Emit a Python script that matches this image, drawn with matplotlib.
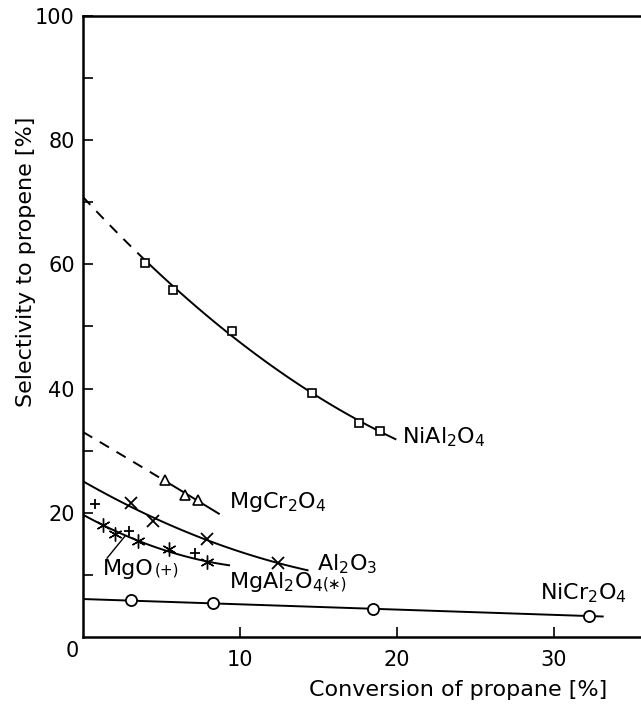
import numpy as np
import matplotlib.pyplot as plt

plt.rcParams['font.family'] = ['DejaVu Sans']
plt.rcParams['mathtext.default'] = 'regular'

# values (conversion %, selectivity %)
nial_x = [3.95, 5.75, 9.5, 14.6, 17.6, 18.9]
nial_y = [60.3, 55.8, 49.3, 39.3, 34.5, 33.2]
nial_y0, nial_xend = 71.2, 19.9

mgcr_x = [5.2, 6.5, 7.3]
mgcr_y = [25.3, 22.9, 22.1]
mgcr_y0, mgcr_xend = 33.0, 8.65

al_x = [3.08, 4.46, 7.9, 12.4]
al_y = [21.5, 18.6, 15.8, 11.9]
al_y0, al_xend = 25.0, 14.3

mgo_x = [0.78, 2.9, 7.15]
mgo_y = [21.4, 17.1, 13.6]

mgal_x = [1.3, 2.06, 3.5, 5.45, 7.9]
mgal_y = [18.0, 16.6, 15.5, 14.2, 12.0]
mgal_y0, mgal_xend = 19.9, 9.3

nicr_x = [3.06, 8.3, 18.5, 32.2]
nicr_y = [5.9, 5.4, 4.5, 3.4]
nicr_y0, nicr_xend = 6.1, 33.1

LW = 1.4
DASH = (0, (5.5, 4.5))


def trend(ax, xs, ys, y0, xend, xsolid=0.0, deg=2):
    # smooth curve through the points, dashed part from x=0 up to xsolid
    c = np.polyfit([0.0] + list(xs), [y0] + list(ys), deg)
    if xsolid > 0:
        xd = np.linspace(0, xsolid, 40)
        ax.plot(xd, np.polyval(c, xd), color='black', lw=LW, ls=DASH, zorder=2)
    xx = np.linspace(xsolid, xend, 120)
    ax.plot(xx, np.polyval(c, xx), color='black', lw=LW, zorder=2)


fig = plt.figure(figsize=(6.41, 7.07), dpi=100)
ax = fig.add_axes([0.1295, 0.099, 0.8705, 0.8784])

trend(ax, nial_x, nial_y, nial_y0, nial_xend, xsolid=nial_x[0])
trend(ax, mgcr_x, mgcr_y, mgcr_y0, mgcr_xend, xsolid=mgcr_x[0])
trend(ax, al_x, al_y, al_y0, al_xend)
trend(ax, mgal_x, mgal_y, mgal_y0, mgal_xend)
trend(ax, nicr_x, nicr_y, nicr_y0, nicr_xend, deg=1)

ax.plot(nial_x, nial_y, 's', ms=6, mfc='white', mec='black', mew=1.2, zorder=3)
ax.plot(mgcr_x, mgcr_y, '^', ms=7, mfc='white', mec='black', mew=1.2, zorder=3)
ax.plot(al_x, al_y, 'x', ms=8, mec='black', mew=1.3, zorder=3)
ax.plot(mgo_x, mgo_y, '+', ms=7, mec='black', mew=1.3, zorder=3)
ax.plot(mgal_x, mgal_y, marker=(6, 2, 0), ls='none', ms=10, mec='black', mew=1.0, zorder=3)
ax.plot(nicr_x, nicr_y, 'o', ms=8, mfc='white', mec='black', mew=1.3, zorder=3)

fs = 16
ax.text(20.3, 32.2, 'NiAl$_2$O$_4$', fontsize=fs, va='center')
ax.text(9.3, 21.8, 'MgCr$_2$O$_4$', fontsize=fs, va='center')
ax.text(14.9, 11.8, 'Al$_2$O$_3$', fontsize=fs, va='center')
ax.text(29.1, 7.1, 'NiCr$_2$O$_4$', fontsize=fs, va='center')
t1 = ax.text(1.25, 10.9, 'MgO', fontsize=fs, va='center')
ax.annotate('(+)', xy=(1.02, 0.45), xycoords=t1, fontsize=11, va='center')
t2 = ax.text(9.3, 8.9, 'MgAl$_2$O$_4$', fontsize=fs, va='center')
ax.annotate('(\u2217)', xy=(1.0, 0.42), xycoords=t2, fontsize=11, va='center')
ax.plot([1.53, 2.66], [12.7, 16.2], color='black', lw=1.0)

ax.set_xlim(0, 35.54)
ax.set_ylim(0, 100)
ax.set_xticks([10, 20, 30])
ax.set_yticks([20, 40, 60, 80, 100])
ax.set_yticks([10, 30, 50, 70, 90], minor=True)
ax.tick_params(axis='both', which='both', direction='in', length=7, width=1.2,
               labelsize=15)
ax.tick_params(axis='x', pad=9)
ax.tick_params(axis='y', pad=6)
ax.text(-0.7, -2.3, '0', fontsize=15, ha='center', va='center', clip_on=False)

for s in ['left', 'bottom', 'top']:
    ax.spines[s].set_linewidth(1.8)
ax.spines['right'].set_visible(False)

fig.text(458 / 641, 1 - 690 / 707, 'Conversion of propane [%]', fontsize=16,
         ha='center', va='center')
fig.text(26 / 641, 1 - 262 / 707, 'Selectivity to propene [%]', fontsize=16,
         ha='center', va='center', rotation=90)

fig.savefig('out.png', dpi=100)
